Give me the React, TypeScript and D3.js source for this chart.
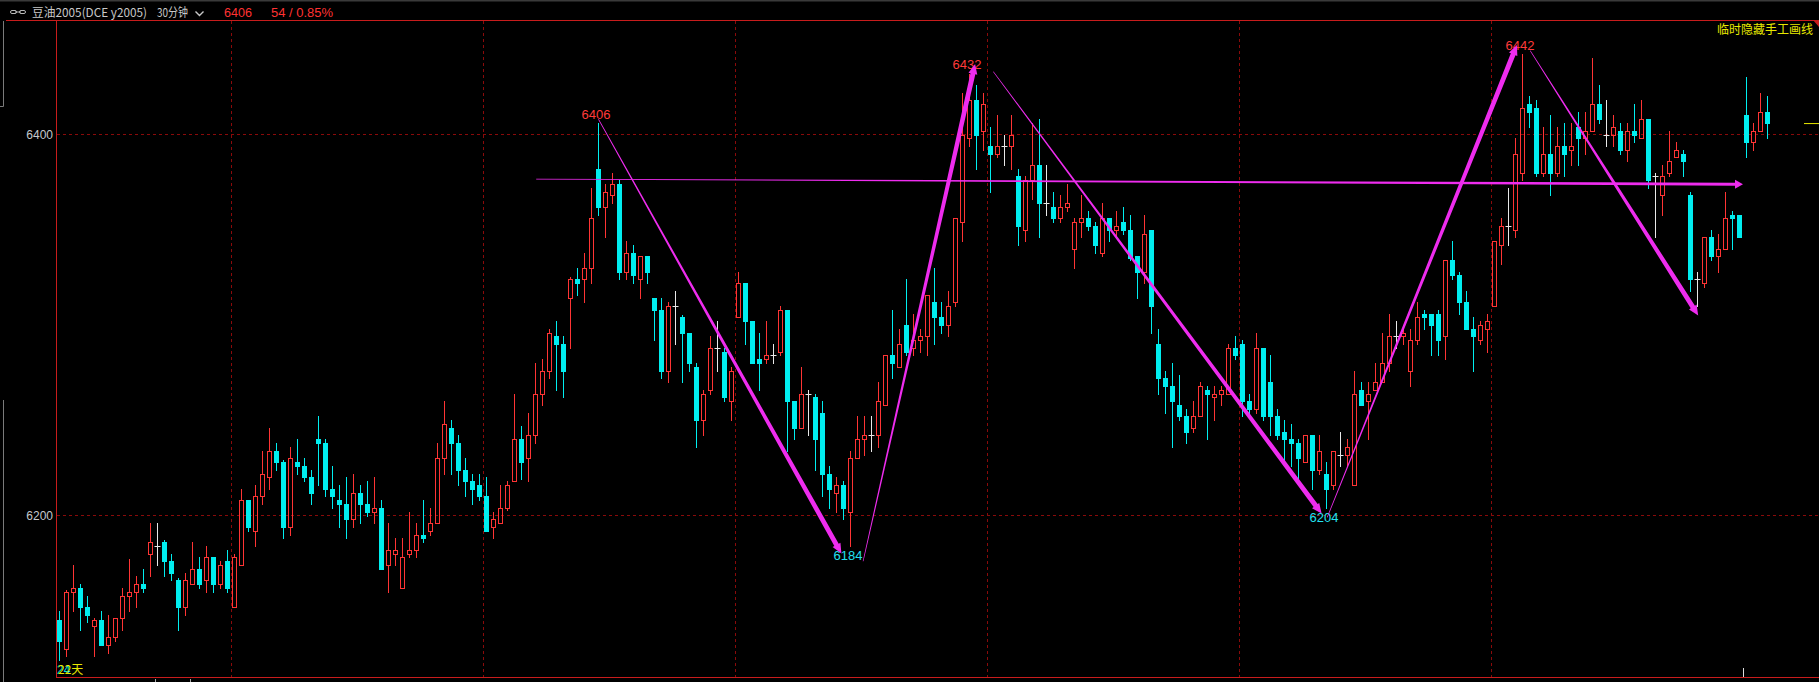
import React from 'react';
import * as d3 from 'd3';

// ---- data ----
const OPEN = [
  6145,6130,6160,6162,6152,6142,6145,6132,6136,6146,
  6158,6160,6164,6180,6184,6186,6176,6166,6152,6164,
  6172,6166,6178,6164,6176,6152,6174,6208,6192,6210,
  6220,6234,6228,6194,6228,6226,6220,6240,6238,6214,
  6208,6206,6198,6212,6206,6202,6204,6174,6180,6162,
  6180,6182,6190,6192,6196,6230,6246,6238,6224,6218,
  6216,6210,6194,6196,6204,6218,6240,6230,6242,6264,
  6276,6294,6290,6314,6324,6324,6330,6382,6362,6368,
  6374,6328,6338,6324,6336,6314,6308,6276,6310,6304,
  6296,6278,6250,6266,6288,6286,6260,6304,6322,6302,
  6282,6282,6284,6286,6308,6260,6246,6264,6262,6254,
  6222,6212,6216,6202,6230,6240,6242,6242,6258,6284,
  6278,6300,6288,6292,6294,6312,6304,6300,6312,6354,
  6398,6418,6402,6394,6390,6394,6394,6378,6350,6376,
  6384,6364,6362,6356,6362,6340,6354,6356,6352,6338,
  6356,6350,6354,6350,6336,6328,6350,6290,6272,6268,
  6258,6252,6246,6252,6266,6262,6264,6264,6288,6290,
  6260,6256,6288,6270,6252,6244,6240,6238,6228,6242,
  6224,6222,6216,6232,6232,6216,6266,6260,6266,6270,
  6280,6294,6294,6276,6292,6306,6306,6306,6294,6334,
  6326,6312,6298,6292,6298,6310,6342,6352,6350,6380,
  6416,6414,6380,6390,6380,6394,6392,6404,6398,6402,
  6416,6400,6400,6402,6392,6402,6398,6408,6378,6368,
  6380,6388,6390,6368,6324,6322,6346,6336,6340,6358,
  6358,6410,6396,6402,6412,
];
const HIGH = [
  6150,6161,6174,6164,6158,6146,6150,6148,6146,6162,
  6177,6168,6172,6196,6196,6187,6180,6167,6170,6186,
  6178,6184,6178,6176,6182,6180,6214,6208,6216,6234,
  6246,6238,6229,6236,6240,6230,6224,6252,6240,6226,
  6216,6220,6222,6216,6218,6220,6208,6196,6188,6188,
  6202,6196,6208,6204,6238,6260,6250,6242,6230,6222,
  6222,6220,6202,6216,6218,6264,6247,6254,6280,6282,
  6298,6302,6294,6325,6330,6338,6372,6406,6374,6380,
  6376,6344,6342,6336,6336,6314,6314,6312,6318,6305,
  6296,6280,6266,6294,6302,6288,6278,6328,6322,6302,
  6296,6302,6290,6310,6308,6260,6278,6266,6264,6260,
  6226,6220,6218,6234,6252,6252,6252,6270,6284,6308,
  6298,6324,6306,6298,6316,6330,6312,6318,6356,6422,
  6432,6426,6422,6404,6410,6400,6410,6382,6378,6406,
  6408,6384,6370,6368,6374,6356,6368,6360,6354,6364,
  6356,6360,6362,6358,6336,6358,6350,6298,6276,6280,
  6274,6256,6260,6270,6268,6268,6268,6290,6294,6292,
  6264,6296,6288,6284,6256,6250,6248,6240,6242,6242,
  6242,6228,6234,6244,6240,6276,6270,6270,6280,6296,
  6306,6302,6300,6298,6312,6308,6306,6308,6334,6344,
  6328,6318,6304,6302,6306,6344,6356,6372,6398,6442,
  6420,6418,6404,6410,6404,6406,6406,6412,6412,6440,
  6426,6418,6410,6406,6406,6416,6418,6408,6380,6384,
  6402,6396,6392,6370,6328,6346,6350,6348,6370,6360,
  6358,6430,6406,6422,6420,
];
const LOW = [
  6124,6126,6150,6140,6144,6126,6132,6128,6134,6140,
  6150,6152,6160,6168,6174,6168,6166,6140,6148,6164,
  6162,6160,6160,6162,6160,6152,6174,6192,6184,6206,
  6214,6224,6188,6190,6222,6218,6206,6216,6210,6204,
  6194,6188,6194,6196,6200,6196,6172,6160,6174,6162,
  6178,6178,6186,6190,6196,6222,6222,6216,6210,6206,
  6208,6192,6188,6196,6203,6218,6219,6218,6238,6258,
  6272,6266,6262,6288,6316,6312,6322,6358,6346,6364,
  6324,6324,6322,6314,6322,6292,6272,6270,6290,6270,
  6276,6236,6242,6264,6276,6260,6250,6304,6290,6280,
  6266,6280,6280,6284,6234,6240,6246,6242,6224,6210,
  6204,6202,6198,6184,6230,6232,6234,6236,6258,6272,
  6278,6284,6284,6286,6284,6290,6296,6294,6310,6344,
  6394,6382,6392,6370,6388,6384,6382,6342,6344,6366,
  6346,6358,6354,6354,6360,6330,6346,6350,6338,6336,
  6344,6346,6348,6334,6314,6322,6296,6264,6254,6236,
  6250,6238,6244,6252,6240,6250,6258,6264,6282,6252,
  6254,6254,6250,6242,6240,6228,6226,6219,6228,6214,
  6222,6204,6214,6226,6226,6216,6258,6240,6266,6270,
  6276,6288,6290,6268,6290,6298,6284,6284,6282,6324,
  6306,6298,6276,6290,6286,6310,6332,6342,6346,6376,
  6404,6378,6378,6368,6378,6378,6384,6384,6390,6402,
  6406,6394,6394,6390,6386,6396,6398,6372,6346,6358,
  6378,6388,6378,6318,6310,6320,6334,6328,6340,6340,
  6346,6388,6392,6402,6398,
];
const CLOSE = [
  6134,6160,6162,6152,6148,6145,6132,6136,6146,6158,
  6160,6164,6162,6186,6184,6176,6170,6152,6166,6172,
  6164,6178,6164,6174,6162,6178,6208,6194,6210,6222,
  6234,6228,6194,6230,6226,6220,6212,6238,6214,6210,
  6206,6198,6212,6206,6202,6204,6172,6182,6182,6178,
  6182,6190,6188,6196,6230,6248,6238,6224,6218,6214,
  6210,6192,6198,6204,6216,6240,6228,6242,6264,6276,
  6296,6290,6276,6324,6322,6330,6356,6362,6370,6374,
  6328,6338,6326,6336,6328,6308,6276,6310,6310,6296,
  6280,6250,6264,6288,6288,6262,6276,6322,6302,6280,
  6280,6284,6284,6308,6260,6246,6264,6264,6240,6222,
  6214,6216,6204,6230,6240,6242,6242,6260,6284,6280,
  6290,6286,6292,6294,6316,6304,6300,6310,6356,6400,
  6418,6400,6416,6390,6394,6394,6400,6352,6376,6384,
  6364,6364,6356,6362,6364,6354,6356,6352,6342,6356,
  6350,6352,6350,6335,6328,6348,6310,6272,6268,6260,
  6252,6244,6252,6268,6264,6264,6266,6288,6284,6260,
  6256,6288,6252,6252,6242,6240,6238,6230,6242,6224,
  6234,6214,6234,6232,6236,6264,6258,6264,6270,6280,
  6294,6294,6296,6292,6304,6304,6300,6292,6334,6326,
  6312,6298,6294,6300,6302,6344,6352,6352,6390,6414,
  6412,6380,6390,6380,6394,6390,6394,6398,6402,6416,
  6408,6400,6404,6392,6402,6400,6408,6376,6378,6378,
  6386,6392,6386,6324,6324,6346,6336,6340,6356,6356,
  6346,6396,6402,6412,6406,
];

const Y_TICKS = [6200, 6400];
const V_GRID_AFTER = [24, 60, 96, 132, 168, 204];

const EXTREME_IDX = [77, 113, 130, 181, 209];
const EXTREME_VAL = [6406, 6184, 6432, 6204, 6442];
const EXTREME_KIND = ['high', 'low', 'high', 'low', 'high'];

// hand-drawn trend arrows: [index, price] -> [index, price]
const ARROW_FROM = [[77.0, 6408], [114.8, 6176], [133.4, 6433], [181.1, 6199], [210.1, 6444], [68.1, 6376.6]];
const ARROW_TO = [[111.7, 6180], [130.8, 6437], [180.3, 6201], [208.2, 6447], [234.1, 6305], [240.5, 6373.9]];
const ARROW_W = [5, 5, 5, 5, 5, 3];

const TITLE = '豆油2005(DCE y2005)';
const PERIOD = '30分钟';
const LAST = '6406';
const CHANGE = '54 / 0.85%';
const TOOL_LABEL = '临时隐藏手工画线';
const DAYS_A = '24';
const DAYS_B = '22天';

const W = 1819;
const H = 682;
const UP = '#ff3434';
const DOWN = '#00eef0';
const FRAME = '#c81c1c';
const GRID = '#8a0a0a';
const MAG = '#ee2cee';

function arrowPoly(x0: number, y0: number, x1: number, y1: number, w0: number, w1: number, hl: number, hw: number) {
  const dx = x1 - x0, dy = y1 - y0;
  const len = Math.hypot(dx, dy);
  const ux = dx / len, uy = dy / len;
  const nx = -uy, ny = ux;
  const bx = x1 - ux * hl, by = y1 - uy * hl;
  const pts: [number, number][] = [
    [x0 + nx * w0 / 2, y0 + ny * w0 / 2],
    [bx + nx * w1 / 2, by + ny * w1 / 2],
    [bx + nx * hw, by + ny * hw],
    [x1, y1],
    [bx - nx * hw, by - ny * hw],
    [bx - nx * w1 / 2, by - ny * w1 / 2],
    [x0 - nx * w0 / 2, y0 - ny * w0 / 2],
  ];
  return (d3.line()(pts) || '') + 'Z';
}

export default function App() {
  const N = OPEN.length;
  const x = d3.scaleLinear().domain([0, N - 1]).range([59.5, 59.5 + 7 * (N - 1)]);
  const y = d3.scaleLinear().domain([6200, 6400]).range([515.5, 134.5]);
  const py = (v: number) => Math.round(y(v));

  const candles = OPEN.map((o, i) => {
    const c = CLOSE[i], h = HIGH[i], l = LOW[i];
    const cx = x(i);
    const yh = py(h), yl = py(l);
    if (c > o) {
      const top = py(c), bot = py(o);
      return (
        <g key={i}>
          {yh < top && <line x1={cx} x2={cx} y1={yh} y2={top} stroke={UP} strokeWidth={1} />}
          {yl > bot && <line x1={cx} x2={cx} y1={bot + 1} y2={yl + 1} stroke={UP} strokeWidth={1} />}
          <rect x={cx - 2} y={top + 0.5} width={4} height={Math.max(1, bot - top)} fill="none" stroke={UP} strokeWidth={1} />
        </g>
      );
    } else if (c < o) {
      const top = py(o), bot = py(c);
      return (
        <g key={i}>
          <line x1={cx} x2={cx} y1={yh} y2={yl + 1} stroke={DOWN} strokeWidth={1} />
          <rect x={cx - 2.5} y={top} width={5} height={Math.max(1, bot - top + 1)} fill={DOWN} />
        </g>
      );
    }
    const yo = py(o) + 0.5;
    return (
      <g key={i}>
        <line x1={cx} x2={cx} y1={yh} y2={yl + 1} stroke="#e8e8e8" strokeWidth={1} />
        <line x1={cx - 3} x2={cx + 3} y1={yo} y2={yo} stroke="#e8e8e8" strokeWidth={1} />
      </g>
    );
  });

  const numFont = '"Liberation Sans", Arial, sans-serif';
  const cjkFont = '"Noto Sans CJK SC", "Liberation Sans", sans-serif';

  return (
    <div style={{ position: 'absolute', left: 0, top: 0, width: W, height: H, background: '#000' }}>
      <svg width={W} height={H} style={{ display: 'block', background: '#000' }}>
        {/* top bar */}
        <rect x={0} y={0} width={W} height={1.5} fill="#3a3a3a" />
        <g stroke="#b8b8b8" strokeWidth={1} fill="none">
          <rect x={10.5} y={10.5} width={6} height={3} rx={1.5} />
          <rect x={19.5} y={10.5} width={6} height={3} rx={1.5} />
          <line x1={15} x2={21} y1={12} y2={12} />
        </g>
        <text x={32} y={16.5} fontSize={12} fontFamily={cjkFont} fill="#c8c8c8" textLength={115} lengthAdjust="spacingAndGlyphs">{TITLE}</text>
        <text x={157} y={16.5} fontSize={12} fontFamily={cjkFont} fill="#c8c8c8" textLength={31} lengthAdjust="spacingAndGlyphs">{PERIOD}</text>
        <path d="M195.5,11.5 L199.5,15.5 L203.5,11.5" stroke="#c8c8c8" strokeWidth={1.4} fill="none" />
        <text x={224} y={16.5} fontSize={12} fontFamily={numFont} fill="#ff3232" textLength={28} lengthAdjust="spacingAndGlyphs">{LAST}</text>
        <text x={271} y={16.5} fontSize={12} fontFamily={numFont} fill="#ff3232" textLength={62} lengthAdjust="spacingAndGlyphs">{CHANGE}</text>

        {/* frame */}
        <line x1={6} x2={1814} y1={20.5} y2={20.5} stroke={FRAME} strokeWidth={1} />
        <path d="M1813,20 L1819,20 L1819,27 Z" fill={FRAME} />
        <line x1={56.5} x2={56.5} y1={21} y2={678} stroke={FRAME} strokeWidth={1} />
        <line x1={56} x2={W} y1={677.5} y2={677.5} stroke={FRAME} strokeWidth={1} />
        <path d="M3.5,21 L3.5,106.5 L0,106.5" stroke="#7a7a7a" strokeWidth={1} fill="none" />
        <line x1={3.5} x2={3.5} y1={400} y2={H} stroke="#7a7a7a" strokeWidth={1} />

        {/* grid */}
        {Y_TICKS.map((t) => {
          const yy = Math.floor(y(t)) + 0.5;
          return (
            <g key={t}>
              <line x1={57} x2={W} y1={yy} y2={yy} stroke={GRID} strokeWidth={1} strokeDasharray="3 3" />
              <text x={53} y={yy + 4.5} fontSize={12} fontFamily={numFont} fill="#c4c8cc" textAnchor="end">{t}</text>
            </g>
          );
        })}
        {V_GRID_AFTER.map((i) => {
          const xx = Math.round(x(i) + 3.5) + 0.5;
          return <line key={i} x1={xx} x2={xx} y1={21} y2={677} stroke={GRID} strokeWidth={1} strokeDasharray="3 3" />;
        })}

        {/* candles */}
        {candles}

        {/* extreme labels */}
        {EXTREME_IDX.map((i, k) => {
          const isHigh = EXTREME_KIND[k] === 'high';
          const yy = isHigh ? y(EXTREME_VAL[k]) - 4.5 : y(EXTREME_VAL[k]) + 14;
          return (
            <text key={i} x={x(i) - 2.5} y={yy} fontSize={13} fontFamily={numFont} textAnchor="middle" fill={isHigh ? '#ff3a3a' : '#22e0f0'}>
              {EXTREME_VAL[k]}
            </text>
          );
        })}

        {/* trend arrows */}
        {ARROW_FROM.map((f, k) => {
          const t = ARROW_TO[k];
          const w1 = ARROW_W[k];
          return (
            <path key={k} d={arrowPoly(x(f[0]), y(f[1]), x(t[0]), y(t[1]), 0.7, w1, w1 > 4 ? 10 : 8, w1 > 4 ? 4.5 : 4.5)} fill={MAG} />
          );
        })}

        {/* right-side labels / markers */}
        <text x={1813} y={33.5} fontSize={12} fontFamily={cjkFont} fill="#e8e800" textAnchor="end">{TOOL_LABEL}</text>
        <line x1={1804} x2={1819} y1={y(CLOSE[N - 1]) + 0.5} y2={y(CLOSE[N - 1]) + 0.5} stroke="#e8e800" strokeWidth={1} />

        {/* bottom */}
        <text x={57} y={674} fontSize={12} fontFamily={numFont} fill="#00e0e8">{DAYS_A}</text>
        <text x={58} y={674} fontSize={12} fontFamily={cjkFont} fill="#e8e800">{DAYS_B}</text>
        <line x1={155.5} x2={155.5} y1={679} y2={682} stroke="#aaaaaa" />
        <line x1={190.5} x2={190.5} y1={679} y2={682} stroke="#aaaaaa" />
        <line x1={1743.5} x2={1743.5} y1={668} y2={677} stroke="#dddddd" />
      </svg>
    </div>
  );
}
